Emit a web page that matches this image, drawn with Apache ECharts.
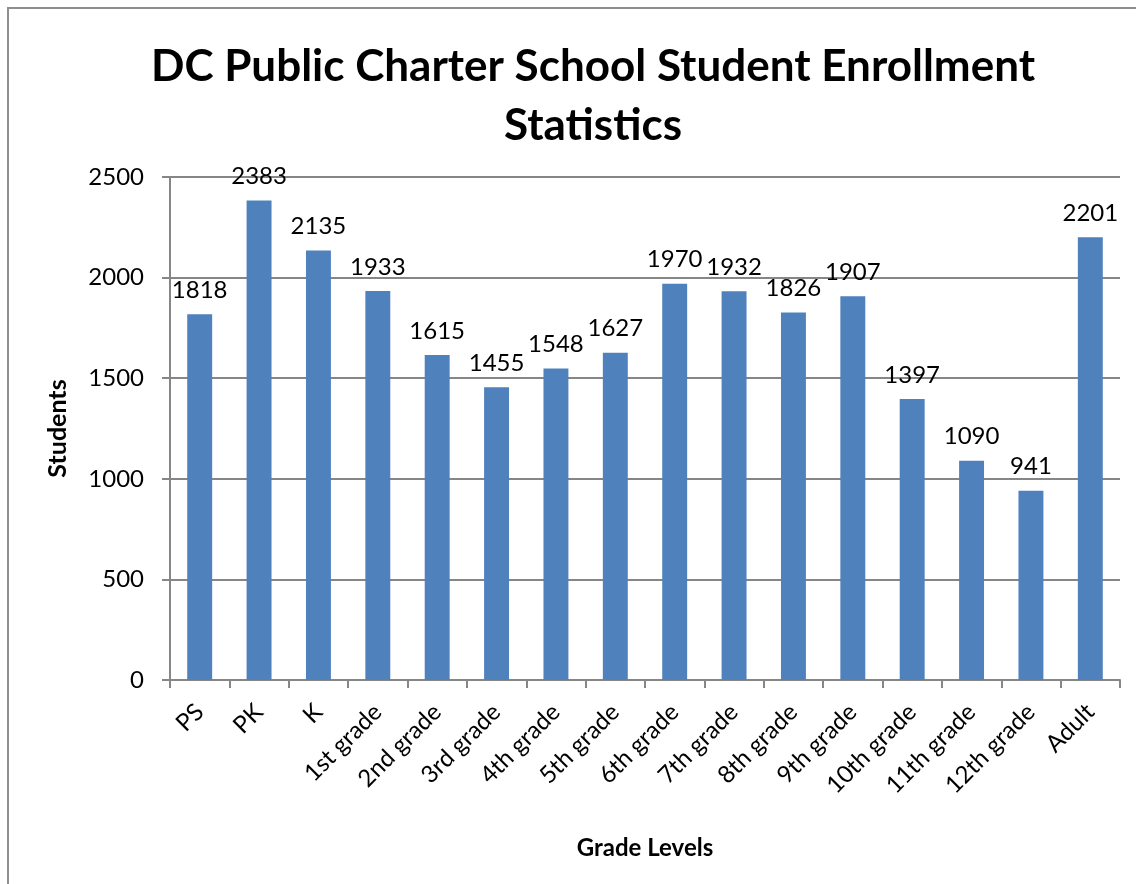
<!DOCTYPE html>
<html>
<head>
<meta charset="utf-8">
<title>DC Public Charter School Student Enrollment Statistics</title>
<script src="https://cdn.jsdelivr.net/npm/echarts/dist/echarts.min.js"></script>
<style>
  html, body { margin: 0; padding: 0; background: #fff; }
  #chart { width: 1136px; height: 884px; }
</style>
</head>
<body>
<div id="chart"></div>
<script>
  // grade levels on the x axis
  var grades = ['PS', 'PK', 'K', '1st grade', '2nd grade', '3rd grade', '4th grade', '5th grade',
    '6th grade', '7th grade', '8th grade', '9th grade', '10th grade', '11th grade', '12th grade', 'Adult'];
  // students enrolled per grade
  var students = [1818, 2383, 2135, 1933, 1615, 1455, 1548, 1627, 1970, 1932, 1826, 1907, 1397, 1090, 941, 2201];

  var font = 'Lato, "Open Sans", sans-serif';
  var gray = '#868686';

  var chart = echarts.init(document.getElementById('chart'));
  chart.setOption({
    animation: false,
    textStyle: { fontFamily: font, color: '#000' },
    graphic: [{
      type: 'rect',
      shape: { x: 8, y: 8, width: 1300, height: 1000 },
      style: { fill: 'none', stroke: '#8e8e8e', lineWidth: 2 },
      silent: true
    }],
    title: {
      text: 'DC Public Charter School Student Enrollment\nStatistics',
      left: 588,
      top: 32,
      textAlign: 'center',
      textStyle: { fontFamily: font, fontSize: 44, fontWeight: 'bold', color: '#000', lineHeight: 59 }
    },
    grid: { left: 170, right: 16, top: 177, bottom: 204, containLabel: false },
    xAxis: {
      type: 'category',
      data: grades,
      name: 'Grade Levels',
      nameLocation: 'middle',
      nameGap: 156,
      nameTextStyle: { fontFamily: font, fontSize: 24, fontWeight: 'bold', color: '#000' },
      axisLine: { lineStyle: { color: gray, width: 2 } },
      axisTick: { show: true, length: 8, lineStyle: { color: gray, width: 2 } },
      axisLabel: { rotate: 45, fontSize: 24, color: '#000', margin: 28, interval: 0 }
    },
    yAxis: {
      type: 'value',
      min: 0,
      max: 2500,
      interval: 500,
      name: 'Students',
      nameLocation: 'middle',
      nameGap: 100,
      nameTextStyle: { fontFamily: font, fontSize: 25, fontWeight: 'bold', color: '#000' },
      axisLine: { show: true, lineStyle: { color: gray, width: 2 } },
      axisTick: { show: true, length: 8, lineStyle: { color: gray, width: 2 } },
      axisLabel: { fontSize: 24, color: '#000', margin: 26, formatter: function (v) { return String(v); } },
      splitLine: { show: true, lineStyle: { color: gray, width: 2 } }
    },
    series: [{
      type: 'bar',
      data: students,
      barWidth: '42%',
      itemStyle: { color: '#4F81BD' },
      label: { show: true, position: 'top', distance: 12, fontSize: 24, color: '#000', fontFamily: font }
    }]
  });
</script>
</body>
</html>
